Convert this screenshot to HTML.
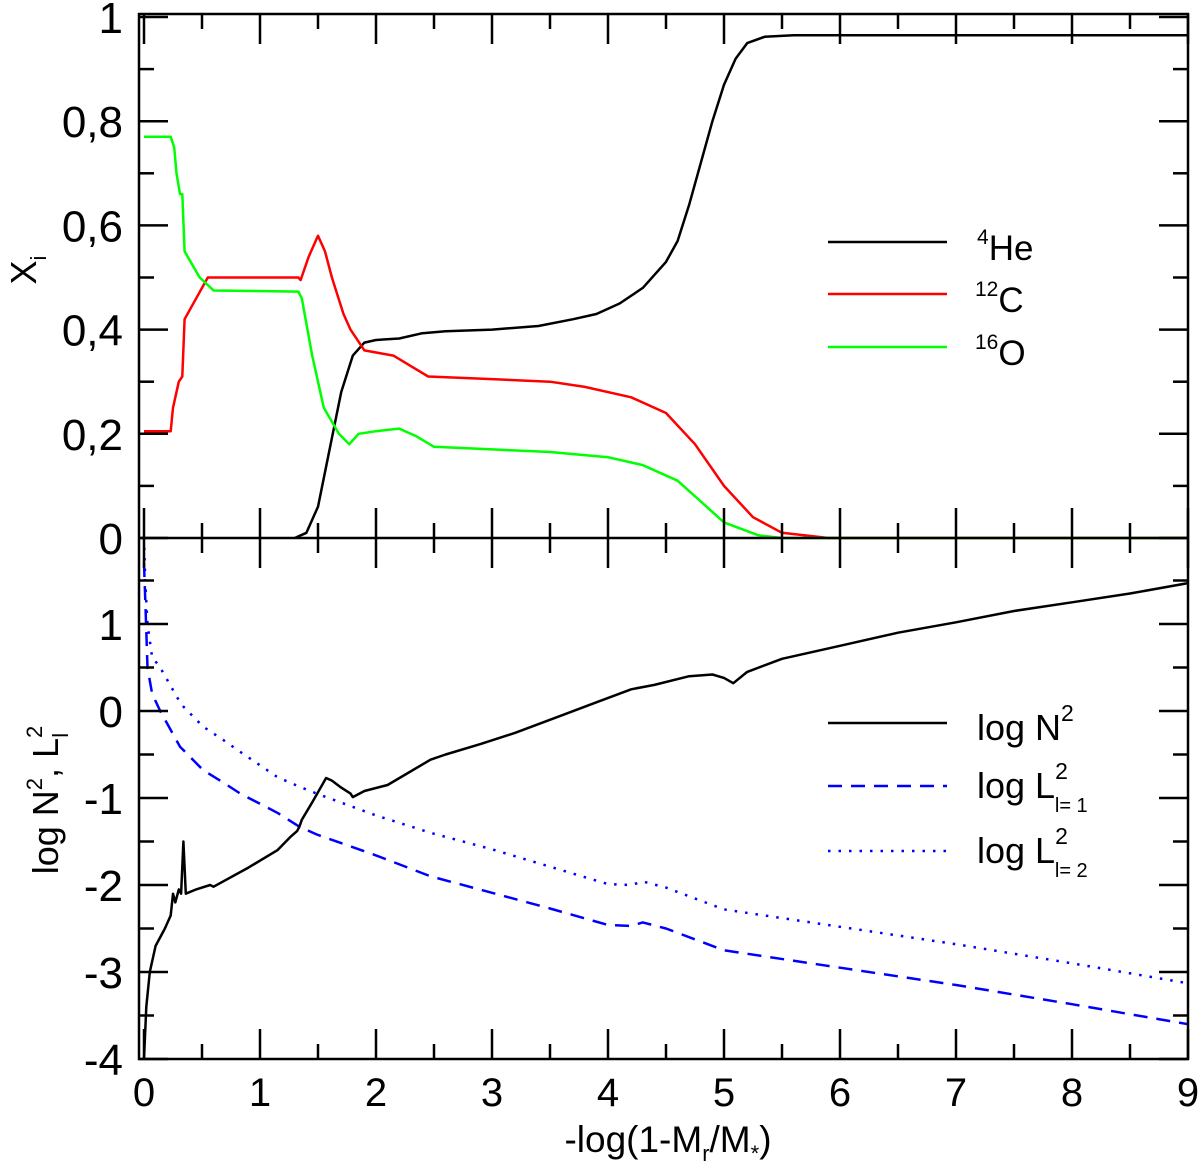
<!DOCTYPE html>
<html><head><meta charset="utf-8"><style>body{margin:0;background:#fff}svg{display:block}text{font-family:"Liberation Sans",sans-serif;fill:#000}</style></head>
<body>
<svg id="chart" width="1200" height="1173" viewBox="0 0 1200 1173" xmlns="http://www.w3.org/2000/svg">
<g id="marks"></g>
<g id="axes"></g>
<g id="legends">
 <g>
  <line x1="828" y1="242" x2="947" y2="242" stroke="#000" stroke-width="2.5"/>
  <text x="977" y="260" font-size="35"><tspan font-size="21" dy="-16">4</tspan><tspan dy="16">He</tspan></text>
  <line x1="828" y1="294" x2="947" y2="294" stroke="#f00" stroke-width="2.5"/>
  <text x="975" y="312" font-size="35"><tspan font-size="21" dy="-16">12</tspan><tspan dy="16">C</tspan></text>
  <line x1="828" y1="347" x2="947" y2="347" stroke="#0f0" stroke-width="2.5"/>
  <text x="975" y="365" font-size="35"><tspan font-size="21" dy="-16">16</tspan><tspan dy="16">O</tspan></text>
 </g>
 <g>
  <line x1="828" y1="723" x2="947" y2="723" stroke="#000" stroke-width="2.5"/>
  <text x="977" y="740" font-size="36">log N<tspan font-size="23" dy="-19">2</tspan></text>
  <line x1="828" y1="786" x2="947" y2="786" stroke="#00f" stroke-width="2.5" stroke-dasharray="14,9"/>
  <text x="977" y="798" font-size="36">log L<tspan font-size="23" dy="-19">2</tspan><tspan font-size="20" dy="33" dx="-13">l= 1</tspan></text>
  <line x1="828" y1="851" x2="947" y2="851" stroke="#00f" stroke-width="2.5" stroke-dasharray="2.5,8"/>
  <text x="977" y="863" font-size="36">log L<tspan font-size="23" dy="-19">2</tspan><tspan font-size="20" dy="33" dx="-13">l= 2</tspan></text>
 </g>
</g>
<text transform="translate(36,270) rotate(-90)" text-anchor="middle" font-size="36">X<tspan font-size="22" dy="10">i</tspan></text>
<text transform="translate(58,800) rotate(-90)" text-anchor="middle" font-size="36">log N<tspan font-size="22" dy="-16">2</tspan><tspan dy="16">, L</tspan><tspan font-size="22" dy="-16">2</tspan><tspan font-size="22" dy="26" dx="-12">l</tspan></text>
<text x="668" y="1152" text-anchor="middle" font-size="37">-log(1-M<tspan font-size="22" dy="9">r</tspan><tspan dy="-9">/M</tspan><tspan font-size="22" dy="9">*</tspan><tspan dy="-9">)</tspan></text>
</svg>
<script>
const xTicks=[0,1,2,3,4,5,6,7,8,9];
const yTopTicks=[0,0.2,0.4,0.6,0.8,1];
const yTopLabels=["0","0,2","0,4","0,6","0,8","1"];
const yBotTicks=[-4,-3,-2,-1,0,1];
const heX=[1.3,1.4,1.5,1.6,1.7,1.8,1.9,2.0,2.2,2.4,2.6,3.0,3.4,3.7,3.9,4.1,4.3,4.5,4.6,4.7,4.8,4.9,5.0,5.1,5.2,5.35,5.6,9];
const heY=[0,0.01,0.06,0.17,0.28,0.35,0.375,0.38,0.383,0.393,0.397,0.40,0.407,0.42,0.43,0.45,0.48,0.53,0.57,0.64,0.72,0.80,0.87,0.92,0.95,0.962,0.965,0.965];
const cX=[0,0.23,0.25,0.3,0.33,0.35,0.45,0.55,1.33,1.35,1.42,1.5,1.56,1.62,1.72,1.78,1.9,2.15,2.3,2.45,3,3.5,3.8,4.2,4.5,4.75,5,5.25,5.5,5.9,9];
const cY=[0.205,0.205,0.25,0.30,0.31,0.42,0.46,0.50,0.50,0.495,0.54,0.58,0.55,0.50,0.43,0.40,0.36,0.35,0.33,0.31,0.305,0.30,0.29,0.27,0.24,0.18,0.10,0.04,0.01,0,0];
const oX=[0,0.23,0.26,0.28,0.31,0.33,0.35,0.48,0.6,1.33,1.36,1.45,1.55,1.68,1.77,1.85,2.0,2.2,2.35,2.5,3,3.5,4,4.3,4.6,4.8,5.0,5.3,5.5,9];
const oY=[0.77,0.77,0.75,0.70,0.66,0.66,0.55,0.50,0.475,0.473,0.46,0.35,0.25,0.20,0.18,0.20,0.205,0.21,0.195,0.175,0.17,0.165,0.155,0.14,0.11,0.07,0.03,0.005,0,0];
const nX=[0,0.02,0.05,0.1,0.18,0.23,0.25,0.27,0.3,0.32,0.34,0.36,0.45,0.57,0.6,0.9,1.15,1.26,1.32,1.34,1.36,1.45,1.57,1.62,1.7,1.78,1.8,1.9,2.1,2.47,2.6,2.9,3.2,3.6,3.9,4.2,4.4,4.7,4.9,5.0,5.08,5.2,5.5,6,6.5,7,7.5,8,8.5,9];
const nY=[-4,-3.4,-3,-2.7,-2.5,-2.35,-2.1,-2.2,-2.05,-2.1,-1.5,-2.1,-2.05,-2.0,-2.02,-1.8,-1.6,-1.45,-1.38,-1.33,-1.25,-1.05,-0.77,-0.8,-0.88,-0.95,-0.99,-0.92,-0.85,-0.56,-0.5,-0.38,-0.25,-0.05,0.1,0.25,0.3,0.4,0.42,0.38,0.32,0.45,0.6,0.75,0.9,1.02,1.15,1.25,1.35,1.47];
const lX=[0.0,0.01,0.03,0.07,0.14,0.31,0.34,0.51,0.68,0.83,1.15,1.34,1.49,2,2.47,3,3.5,4,4.2,4.3,4.5,5,6,7,8,9];
const l1Y=[1.7,1.3,0.5,0.2,0.0,-0.41,-0.45,-0.68,-0.82,-0.95,-1.17,-1.33,-1.42,-1.66,-1.9,-2.09,-2.27,-2.46,-2.47,-2.43,-2.5,-2.75,-2.95,-3.15,-3.37,-3.6];
const l2Y=[2.0,1.5,1.0,0.62,0.5,0.1,0.05,-0.18,-0.33,-0.47,-0.76,-0.87,-0.95,-1.2,-1.4,-1.59,-1.79,-1.99,-2.0,-1.96,-2.03,-2.28,-2.48,-2.68,-2.9,-3.13];
const NS="http://www.w3.org/2000/svg";
const X0=144,XU=116,L=139,R=1188,T=14,M=538,B=1059;
const sx=v=>X0+v*XU;
const syT=v=>M-v*521;
const syB=v=>711-v*87;
function mk(tag,attrs,parent){const e=document.createElementNS(NS,tag);for(const k in attrs)e.setAttribute(k,attrs[k]);parent.appendChild(e);return e;}
const marks=document.getElementById('marks'),axes=document.getElementById('axes');
function clipPath(xs,ys,sy,lo,hi){let d='';for(let i=0;i<xs.length;i++){const v=Math.max(lo,Math.min(hi,ys[i]));d+=(i?'L':'M')+sx(xs[i]).toFixed(1)+','+sy(v).toFixed(1);}return d;}
function series(name,xs,ys,sy,color,dash,lo,hi){const p=mk('path',{d:clipPath(xs,ys,sy,lo,hi),fill:'none',stroke:color,'stroke-width':2.5,'stroke-dasharray':dash||'none','stroke-linejoin':'round'},marks);

}
series('line-he4',heX,heY,syT,'#000','',0,1.01);
series('line-c12',cX,cY,syT,'#f00','',0,1.01);
series('line-o16',oX,oY,syT,'#0f0','',0,1.01);
series('line-log-l2-l2',lX,l2Y,syB,'#00f','2.5,8',-4,2);
series('line-log-l2-l1',lX,l1Y,syB,'#00f','14,9',-4,2);
series('line-log-n2',nX,nY,syB,'#000','',-4,2);
const fr=mk('rect',{x:L,y:T,width:R-L,height:B-T,fill:'none',stroke:'#000','stroke-width':2.5},axes);


mk('line',{x1:L,y1:M,x2:R,y2:M,stroke:'#000','stroke-width':2.5},axes);
const tk=(x1,y1,x2,y2)=>mk('line',{x1,y1,x2,y2,stroke:'#000','stroke-width':2.5},axes);
xTicks.forEach((v,i)=>{const x=sx(v);
 tk(x,T,x,T+30);tk(x,M-30,x,M+30);tk(x,B,x,B-30);
 const t=mk('text',{x:x,y:1106,'text-anchor':'middle','font-size':40},axes);t.textContent=String(v);
 
 
 if(i<xTicks.length-1){const h=sx(v+0.5);tk(h,T,h,T+15);tk(h,M-15,h,M+15);tk(h,B,h,B-15);}
});
yTopTicks.forEach((v,i)=>{const y=syT(v);tk(L,y,L+29,y);tk(R,y,R-29,y);
 const t=mk('text',{x:123,y:y+16,'text-anchor':'end','font-size':44},axes);t.textContent=yTopLabels[i];
 
 
 if(i<yTopTicks.length-1){const h=syT(v+0.1);tk(L,h,L+15,h);tk(R,h,R-15,h);}
});
yBotTicks.forEach((v,i)=>{const y=syB(v);tk(L,y,L+29,y);tk(R,y,R-29,y);
 const t=mk('text',{x:123,y:y+16,'text-anchor':'end','font-size':44},axes);t.textContent=String(v);
 
 
 const h=syB(v+0.5);tk(L,h,L+15,h);tk(R,h,R-15,h);
});
</script>
</body></html>
